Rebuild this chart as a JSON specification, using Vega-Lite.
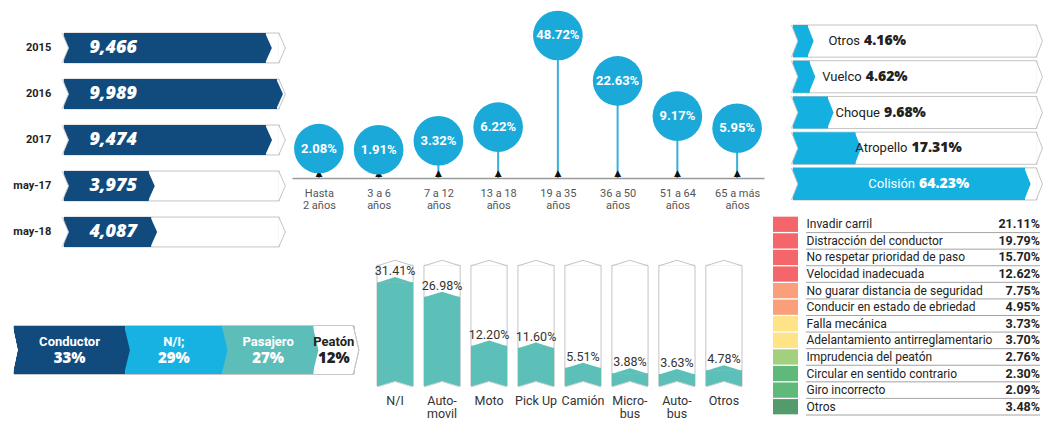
{
  "$schema": "https://vega.github.io/schema/vega-lite/v6.json",
  "background": "white",
  "padding": {"left": 12, "top": 0, "right": 0, "bottom": 0},
  "config": {"view": {"stroke": null}, "font": "Roboto", "axis": {"grid": false}},
  "resolve": {"scale": {"color": "independent"}},
  "spacing": 9,
  "hconcat": [
    {
      "spacing": 3,
      "resolve": {"scale": {"color": "independent"}},
      "vconcat": [
        {
          "bounds": "flush",
          "spacing": 10,
          "hconcat": [
            {
              "width": 268,
              "height": 255,
              "data": {"values": [
                {"periodo": "2015", "total": 9466},
                {"periodo": "2016", "total": 9989},
                {"periodo": "2017", "total": 9474},
                {"periodo": "may-17", "total": 3975},
                {"periodo": "may-18", "total": 4087}
              ]},
              "encoding": {"y": {"field": "periodo", "type": "nominal", "sort": null, "axis": null, "scale": {"range": [25, 255], "paddingInner": 0.35, "paddingOuter": 0.175}}},
              "layer": [
                {"mark": {"type": "bar", "fill": "white", "stroke": "#c4c4c4", "strokeWidth": 1},
                 "encoding": {"x": {"datum": 0, "type": "quantitative", "scale": {"domain": [0, 10000], "range": [50, 263.2], "nice": false}, "axis": null}, "x2": {"datum": 10100}}},
                {"mark": {"type": "point", "shape": "M-0.04,-1L0.4,0L-0.04,1", "size": 900, "filled": true, "fill": "white", "stroke": "#c4c4c4", "strokeWidth": 1, "opacity": 1},
                 "encoding": {"x": {"datum": 10100, "type": "quantitative", "axis": null}}},
                {"mark": {"type": "bar", "fill": "#114b7e"},
                 "encoding": {"x": {"field": "total", "type": "quantitative", "axis": null}}},
                {"mark": {"type": "point", "shape": "M-0.05,-1L0.4,0L-0.05,1Z", "size": 900, "filled": true, "fill": "#114b7e", "strokeWidth": 0, "opacity": 1},
                 "encoding": {"x": {"field": "total", "type": "quantitative", "axis": null}}},
                {"mark": {"type": "point", "shape": "M-0.12,-1L0.3,0L-0.12,1", "size": 900, "filled": true, "fill": "white", "stroke": "#c4c4c4", "strokeWidth": 1, "opacity": 1},
                 "encoding": {"x": {"datum": 0, "type": "quantitative", "axis": null}}},
                {"mark": {"type": "text", "align": "left", "color": "white", "fontSize": 18, "fontWeight": 800, "fontStyle": "italic", "font": "Open Sans"},
                 "encoding": {"x": {"datum": 1200, "type": "quantitative", "axis": null}, "text": {"field": "total", "type": "quantitative", "format": ","}}},
                {"mark": {"type": "text", "align": "right", "color": "#222", "fontSize": 11, "fontWeight": "bold", "font": "Roboto"},
                 "encoding": {"x": {"datum": -600, "type": "quantitative", "axis": null}, "text": {"field": "periodo"}}}
              ]
            },
            {
              "width": 472,
              "height": 178,
              "data": {"values": [
                {"edad": "Hasta 2 años", "pct": 2.08},
                {"edad": "3 a 6 años", "pct": 1.91},
                {"edad": "7 a 12 años", "pct": 3.32},
                {"edad": "13 a 18 años", "pct": 6.22},
                {"edad": "19 a 35 años", "pct": 48.72},
                {"edad": "36 a 50 años", "pct": 22.63},
                {"edad": "51 a 64 años", "pct": 9.17},
                {"edad": "65 a más años", "pct": 5.95}
              ]},
              "encoding": {"x": {"field": "edad", "type": "nominal", "sort": null, "scale": {"type": "point", "padding": 0.45},
                "axis": {"title": null, "domainColor": "#9a9a9a", "domainWidth": 1.5, "ticks": false, "labelAngle": 0, "labelPadding": 9, "labelFontSize": 11, "labelColor": "#555", "labelFont": "Roboto", "labelLineHeight": 12,
                  "labelExpr": "datum.label == 'Hasta 2 años' ? ['Hasta', '2 años'] : [replace(datum.label, ' años', ''), 'años']"}}},
              "layer": [
                {"mark": {"type": "rule", "color": "#3aaedb", "strokeWidth": 2},
                 "encoding": {"y": {"field": "pct", "type": "quantitative", "scale": {"type": "sqrt", "domain": [0, 76], "nice": false}, "axis": null}, "y2": {"datum": 0}}},
                {"mark": {"type": "text", "text": "▲", "baseline": "bottom", "fontSize": 9, "color": "#111", "font": "DejaVu Sans"},
                 "encoding": {"y": {"datum": 0, "type": "quantitative", "axis": null}}},
                {"mark": {"type": "circle", "size": 2463, "opacity": 1, "color": "#1ba9da"},
                 "encoding": {"y": {"field": "pct", "type": "quantitative", "axis": null}}},
                {"mark": {"type": "text", "color": "white", "fontSize": 13, "fontWeight": "bold", "font": "Roboto", "text": {"expr": "format(datum.pct, '.2f') + '%'"}},
                 "encoding": {"y": {"field": "pct", "type": "quantitative", "axis": null}}}
              ]
            }
          ]
        },
        {
          "bounds": "flush",
          "spacing": 23,
          "hconcat": [
            {
              "width": 340,
              "height": 112,
              "data": {"values": [
                {"rol": "Conductor", "pct": 33},
                {"rol": "N/I;", "pct": 29},
                {"rol": "Pasajero", "pct": 27},
                {"rol": "Peatón", "pct": 12}
              ]},
              "encoding": {"y": {"datum": "total", "type": "nominal", "scale": {"range": [64, 112], "paddingInner": 0, "paddingOuter": 0}, "axis": null}},
              "layer": [
                {"mark": {"type": "bar", "fill": "white", "stroke": "#c4c4c4"},
                 "encoding": {"x": {"datum": 0, "type": "quantitative", "scale": {"domain": [0, 101], "nice": false}, "axis": null}, "x2": {"datum": 101}}},
                {"mark": {"type": "bar"},
                 "encoding": {"x": {"field": "pct", "type": "quantitative", "stack": "zero", "axis": null},
                   "order": {"field": "pct", "sort": "descending"},
                   "color": {"field": "rol", "type": "nominal", "sort": null, "legend": null, "scale": {"domain": ["Conductor", "N/I;", "Pasajero", "Peatón"], "range": ["#114b7e", "#18b2e2", "#5dbdb8", "#ffffff"]}}}},
                {"mark": {"type": "point", "shape": "M-0.04,-1L0.2,0L-0.04,1Z", "size": 2304, "filled": true, "opacity": 1, "strokeWidth": 0},
                 "encoding": {"x": {"field": "pct", "type": "quantitative", "stack": "zero", "axis": null},
                   "order": {"field": "pct", "sort": "descending"},
                   "color": {"field": "rol", "type": "nominal", "sort": null, "legend": null}}},
                {"mark": {"type": "point", "shape": "M-0.03,-1L0.2,0L-0.03,1", "size": 2304, "filled": true, "fill": "white", "stroke": "#c4c4c4", "strokeWidth": 1, "opacity": 1},
                 "encoding": {"x": {"datum": 101, "type": "quantitative", "axis": null}}},
                {"mark": {"type": "point", "shape": "M-0.06,-1L0.15,0L-0.06,1Z", "size": 2304, "filled": true, "fill": "white", "strokeWidth": 0, "opacity": 1},
                 "encoding": {"x": {"datum": 0, "type": "quantitative", "axis": null}}},
                {"mark": {"type": "text", "dy": -8, "fontSize": 13, "fontWeight": "bold", "font": "Roboto"},
                 "encoding": {"x": {"field": "pct", "type": "quantitative", "stack": "zero", "bandPosition": 0.5, "axis": null},
                   "order": {"field": "pct", "sort": "descending"},
                   "detail": {"field": "rol"},
                   "text": {"field": "rol"},
                   "color": {"condition": {"test": "datum.rol == 'Peatón'", "value": "#222"}, "value": "white"}}},
                {"mark": {"type": "text", "dy": 8, "fontSize": 15, "fontWeight": 800, "font": "Open Sans", "text": {"expr": "datum.pct + '%'"}},
                 "encoding": {"x": {"field": "pct", "type": "quantitative", "stack": "zero", "bandPosition": 0.5, "axis": null},
                   "order": {"field": "pct", "sort": "descending"},
                   "detail": {"field": "rol"},
                   "color": {"condition": {"test": "datum.rol == 'Peatón'", "value": "#222"}, "value": "white"}}}
              ]
            },
            {
              "width": 365,
              "height": 124,
              "data": {"values": [
                {"vehiculo": "N/I", "pct": 31.41},
                {"vehiculo": "Automovil", "pct": 26.98},
                {"vehiculo": "Moto", "pct": 12.2},
                {"vehiculo": "Pick Up", "pct": 11.6},
                {"vehiculo": "Camión", "pct": 5.51},
                {"vehiculo": "Microbus", "pct": 3.88},
                {"vehiculo": "Autobus", "pct": 3.63},
                {"vehiculo": "Otros", "pct": 4.78}
              ]},
              "encoding": {"x": {"field": "vehiculo", "type": "nominal", "sort": null, "scale": {"paddingInner": 0.23, "paddingOuter": 0},
                "axis": {"title": null, "labelAngle": 0, "domain": false, "ticks": false, "labelPadding": 8, "labelFontSize": 12.5, "labelColor": "#333", "labelFont": "Roboto", "labelLineHeight": 13,
                  "labelExpr": "datum.label == 'Automovil' ? ['Auto-', 'movil'] : datum.label == 'Microbus' ? ['Micro-', 'bus'] : datum.label == 'Autobus' ? ['Auto-', 'bus'] : datum.label"}}},
              "layer": [
                {"mark": {"type": "bar", "fill": "white", "stroke": "#c4c4c4"},
                 "encoding": {"y": {"datum": 36.5, "type": "quantitative", "scale": {"domain": [0, 37.5], "nice": false}, "axis": null}}},
                {"mark": {"type": "point", "shape": "M-1,0.03L0,-0.28L1,0.03", "size": 1296, "filled": true, "fill": "white", "stroke": "#c4c4c4", "strokeWidth": 1, "opacity": 1},
                 "encoding": {"y": {"datum": 36.5, "type": "quantitative", "axis": null}}},
                {"mark": {"type": "bar", "fill": "#5cbfb8"},
                 "encoding": {"y": {"field": "pct", "type": "quantitative", "axis": null}}},
                {"mark": {"type": "point", "shape": "M-1,0.03L0,-0.28L1,0.03Z", "size": 1296, "filled": true, "fill": "#5cbfb8", "strokeWidth": 0, "opacity": 1},
                 "encoding": {"y": {"field": "pct", "type": "quantitative", "axis": null}}},
                {"mark": {"type": "point", "shape": "M-1,0.05L0,-0.25L1,0.05", "size": 1296, "filled": true, "fill": "white", "stroke": "#d0d0d0", "strokeWidth": 1, "opacity": 1},
                 "encoding": {"y": {"datum": 0, "type": "quantitative", "axis": null}}},
                {"mark": {"type": "text", "baseline": "bottom", "dy": -4, "fontSize": 12.5, "color": "#333", "font": "Roboto", "text": {"expr": "format(datum.pct, '.2f') + '%'"}},
                 "encoding": {"y": {"field": "pct", "type": "quantitative", "axis": null}}}
              ]
            }
          ]
        }
      ]
    },
    {
      "spacing": 4,
      "resolve": {"scale": {"color": "independent"}},
      "vconcat": [
        {
          "width": 267,
          "height": 212,
          "data": {"values": [
            {"tipo": "Otros", "pct": 4.16},
            {"tipo": "Vuelco", "pct": 4.62},
            {"tipo": "Choque", "pct": 9.68},
            {"tipo": "Atropello", "pct": 17.31},
            {"tipo": "Colisión", "pct": 64.23}
          ]},
          "encoding": {"y": {"field": "tipo", "type": "nominal", "sort": null, "axis": null, "scale": {"range": [25, 200], "paddingInner": 0.1, "paddingOuter": 0}}},
          "layer": [
            {"mark": {"type": "bar", "fill": "white", "stroke": "#c4c4c4"},
             "encoding": {"x": {"datum": 0, "type": "quantitative", "scale": {"domain": [0, 65], "range": [20, 254.8], "nice": false}, "axis": null}, "x2": {"datum": 67.5}}},
            {"mark": {"type": "point", "shape": "M-0.04,-1L0.35,0L-0.04,1", "size": 1024, "filled": true, "fill": "white", "stroke": "#c4c4c4", "strokeWidth": 1, "opacity": 1},
             "encoding": {"x": {"datum": 67.5, "type": "quantitative", "axis": null}}},
            {"mark": {"type": "bar", "fill": "#13b0e0"},
             "encoding": {"x": {"field": "pct", "type": "quantitative", "axis": null}}},
            {"mark": {"type": "point", "shape": "M-0.05,-1L0.35,0L-0.05,1Z", "size": 1024, "filled": true, "fill": "#13b0e0", "strokeWidth": 0, "opacity": 1},
             "encoding": {"x": {"field": "pct", "type": "quantitative", "axis": null}}},
            {"mark": {"type": "point", "shape": "M-0.1,-1L0.3,0L-0.1,1", "size": 1024, "filled": true, "fill": "white", "stroke": "#c4c4c4", "strokeWidth": 1, "opacity": 1},
             "encoding": {"x": {"datum": 0, "type": "quantitative", "axis": null}}},
            {"transform": [{"filter": "datum.tipo != 'Colisión'"}],
             "mark": {"type": "text", "align": "right", "dx": 52, "fontSize": 13, "color": "#222", "font": "Roboto"},
             "encoding": {"x": {"field": "pct", "type": "quantitative", "axis": null}, "text": {"field": "tipo"}}},
            {"transform": [{"filter": "datum.tipo != 'Colisión'"}],
             "mark": {"type": "text", "align": "left", "dx": 56, "fontSize": 14, "fontWeight": 800, "font": "Open Sans", "color": "#222", "text": {"expr": "format(datum.pct, '.2f') + '%'"}},
             "encoding": {"x": {"field": "pct", "type": "quantitative", "axis": null}}},
            {"transform": [{"filter": "datum.tipo == 'Colisión'"}],
             "mark": {"type": "text", "align": "right", "dx": -110, "fontSize": 13, "color": "white", "font": "Roboto"},
             "encoding": {"x": {"field": "pct", "type": "quantitative", "axis": null}, "text": {"field": "tipo"}}},
            {"transform": [{"filter": "datum.tipo == 'Colisión'"}],
             "mark": {"type": "text", "align": "left", "dx": -106, "fontSize": 14, "fontWeight": 800, "font": "Open Sans", "color": "white", "text": {"expr": "format(datum.pct, '.2f') + '%'"}},
             "encoding": {"x": {"field": "pct", "type": "quantitative", "axis": null}}}
          ]
        },
        {
          "bounds": "flush",
          "spacing": 8,
          "resolve": {"scale": {"color": "independent"}},
          "hconcat": [
            {
              "width": 25,
              "height": 199,
              "data": {"name": "causas"},
              "mark": {"type": "bar"},
              "encoding": {
                "y": {"field": "causa", "type": "nominal", "sort": null, "axis": null, "scale": {"paddingInner": 0.08, "paddingOuter": 0.04}},
                "color": {"field": "causa", "type": "nominal", "sort": null, "legend": null,
                  "scale": {"domain": ["Invadir carril", "Distracción del conductor", "No respetar prioridad de paso", "Velocidad inadecuada", "No guarar distancia de seguridad", "Conducir en estado de ebriedad", "Falla mecánica", "Adelantamiento antirreglamentario", "Imprudencia del peatón", "Circular en sentido contrario", "Giro incorrecto", "Otros"],
                    "range": ["#f4666a", "#f4666a", "#f4666a", "#f4666a", "#f9a07a", "#f9a07a", "#fee487", "#fee487", "#a3d07f", "#5fb97a", "#5fb97a", "#539b6c"]}}
              }
            },
            {
              "width": 234,
              "height": 199,
              "data": {"name": "causas"},
              "layer": [
                {"mark": {"type": "rule", "color": "#8c8c8c", "strokeWidth": 0.8},
                 "encoding": {"y": {"field": "causa", "type": "nominal", "sort": null, "bandPosition": 1, "scale": {"paddingInner": 0, "paddingOuter": 0},
                   "axis": {"orient": "left", "title": null, "labelAlign": "left", "labelPadding": 0, "ticks": false, "tickSize": 0, "domain": false, "labelFontSize": 12, "labelColor": "#222", "labelFont": "Roboto", "labelLimit": 400}}}},
                {"mark": {"type": "text", "align": "right", "fontSize": 12.5, "fontWeight": "bold", "color": "#222", "font": "Roboto", "text": {"expr": "format(datum.pct, '.2f') + '%'"}},
                 "encoding": {"y": {"field": "causa", "type": "nominal", "sort": null,
                   "axis": {"orient": "left", "title": null, "labelAlign": "left", "labelPadding": 0, "ticks": false, "tickSize": 0, "domain": false, "labelFontSize": 12, "labelColor": "#222", "labelFont": "Roboto", "labelLimit": 400}},
                   "x": {"value": "width"}}}
              ]
            }
          ]
        }
      ]
    }
  ],
  "datasets": {
    "causas": [
      {"causa": "Invadir carril", "pct": 21.11},
      {"causa": "Distracción del conductor", "pct": 19.79},
      {"causa": "No respetar prioridad de paso", "pct": 15.70},
      {"causa": "Velocidad inadecuada", "pct": 12.62},
      {"causa": "No guarar distancia de seguridad", "pct": 7.75},
      {"causa": "Conducir en estado de ebriedad", "pct": 4.95},
      {"causa": "Falla mecánica", "pct": 3.73},
      {"causa": "Adelantamiento antirreglamentario", "pct": 3.70},
      {"causa": "Imprudencia del peatón", "pct": 2.76},
      {"causa": "Circular en sentido contrario", "pct": 2.30},
      {"causa": "Giro incorrecto", "pct": 2.09},
      {"causa": "Otros", "pct": 3.48}
    ]
  }
}
